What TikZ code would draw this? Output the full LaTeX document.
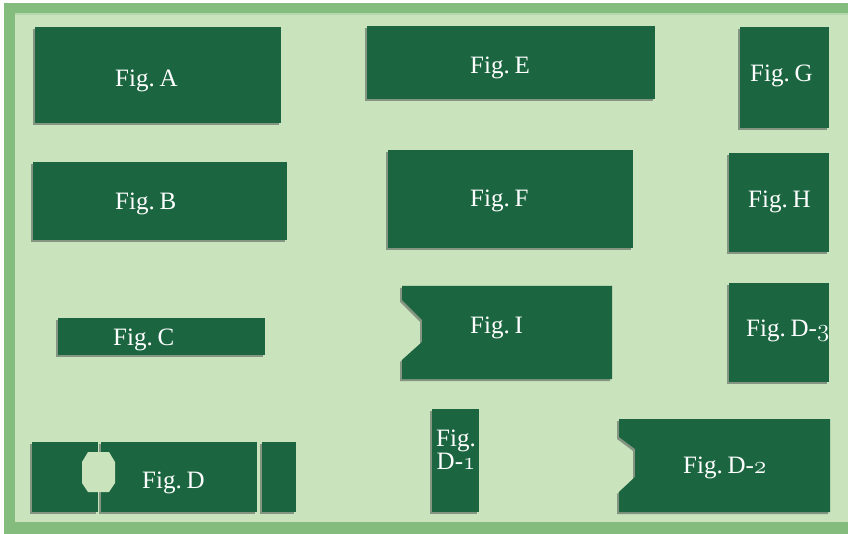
\documentclass[tikz,border=0pt]{standalone}
\usepackage{fontspec}
\setmainfont[WordSpace=0.45]{Liberation Serif}
\newcommand\osnum[1]{{\usefont{OML}{cmm}{m}{it}#1}}
\definecolor{figgreen}{HTML}{1B6640}
\definecolor{paneback}{HTML}{C9E3BD}
\definecolor{frameband}{HTML}{84BC7E}
\definecolor{frameedge}{HTML}{B4D8AC}
\definecolor{boxshade}{HTML}{687468}
\tikzset{
  figbox/.style={fill=figgreen},
  figshade/.style={fill=boxshade, opacity=0.7},
  figlabel/.style={text=white, inner sep=0pt, anchor=base west, font=\fontsize{25}{23}\selectfont},
}
\begin{document}
\begin{tikzpicture}[x=1pt, y=-1pt]
\useasboundingbox (0,0) rectangle (848,534);
% frame
\fill[white] (0,0) rectangle (848,534);
\fill[frameband] (4,3) rectangle (848,534);
\fill[paneback] (15,14) rectangle (848,522);
\draw[frameedge, line width=1.5pt] (15,14) -- (848,14);
% plain boxes
\foreach \xa/\ya/\xb/\yb in {35/27/281/123, 33/162/287/240, 58/318/265/355,
    32/442/98/512, 101/442/257/512, 262/442/296/512,
    367/26/655/99, 388/150/633/248, 432/409/479/512,
    740/27/829/128, 729/153/829/252, 729/283/829/382}
{
  \fill[figshade] (\xa-2,\ya+2) rectangle (\xb-2,\yb+2);
  \fill[figbox] (\xa,\ya) rectangle (\xb,\yb);
}
% notched boxes
\fill[figshade, shift={(-2,2)}] (402,286) -- (612,286) -- (612,379) -- (402,379) -- (402,360) -- (422,342) -- (422,320) -- (402,300) -- cycle;
\fill[figbox] (402,286) -- (612,286) -- (612,379) -- (402,379) -- (402,360) -- (422,342) -- (422,320) -- (402,300) -- cycle;
\fill[figshade, shift={(-2,2)}] (619,419) -- (830,419) -- (830,512) -- (619,512) -- (619,492) -- (635,477) -- (635,449) -- (619,437) -- cycle;
\fill[figbox] (619,419) -- (830,419) -- (830,512) -- (619,512) -- (619,492) -- (635,477) -- (635,449) -- (619,437) -- cycle;
% hole in D
\fill[paneback] (82,462) -- (88,452) -- (109,452) -- (115,462) -- (115,483) -- (109,492) -- (88,492) -- (82,483) -- cycle;
% labels
\node[figlabel] (labA) at (115,87) {Fig. A};
\node[figlabel] (labB) at (115,210) {Fig. B};
\node[figlabel] (labC) at (113,345) {Fig. C};
\node[figlabel] (labD) at (142,488) {Fig. D};
\node[figlabel] (labE) at (470,74) {Fig. E};
\node[figlabel] (labF) at (470,207) {Fig. F};
\node[figlabel] (labG) at (750,82) {Fig. G};
\node[figlabel] (labH) at (748,208) {Fig. H};
\node[figlabel] (labI) at (470,334) {Fig. I};
\node[figlabel, anchor=center, align=center] (labDa) at (456,450) {Fig.\\D-\osnum{1}};
\node[figlabel] (labDb) at (683,473) {Fig. D-\osnum{2}};
\node[figlabel] (labDc) at (746,337) {Fig. D-\osnum{3}};
\end{tikzpicture}
\end{document}
